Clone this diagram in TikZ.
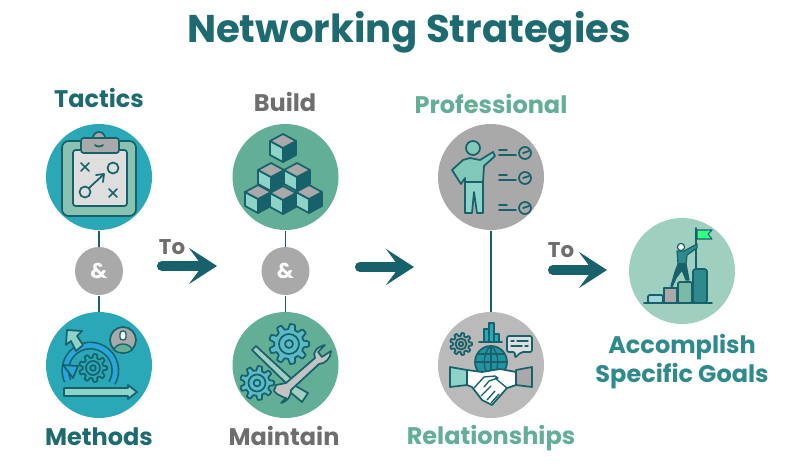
\documentclass[tikz,border=0pt]{standalone}
\usepackage{fontspec}
\setmainfont{Poppins}
\usetikzlibrary{arrows.meta}

\definecolor{tealdk}{HTML}{17626A}
\definecolor{tealtxt}{HTML}{1D6B70}
\definecolor{tealmid}{HTML}{2F8A8E}
\definecolor{tealfill}{HTML}{2AA8B8}
\definecolor{greenfill}{HTML}{62AE97}
\definecolor{greenpale}{HTML}{9FCFBF}
\definecolor{greyfill}{HTML}{A9A9A9}
\definecolor{greytxt}{HTML}{6E6E6E}
\definecolor{mintlt}{HTML}{8ED3C8}
\definecolor{cyanlt}{HTML}{5CBAC6}
\definecolor{paper}{HTML}{DEDEDE}

\tikzset{every picture/.style={line width=0.75pt}}
\tikzset{
  disc/.style={circle,minimum size=79.5pt,inner sep=0pt},
  andnode/.style={circle,fill=greyfill,minimum size=36pt,inner sep=0pt,text=white,font=\bfseries\fontsize{16}{16}\selectfont},
  link/.style={draw=tealdk,line width=1.2pt},
  bigarrow/.style={draw=tealdk,line width=7.6pt,line cap=round,-{Stealth[length=21pt,width=27pt,inset=10pt]}},
  head/.style={font=\bfseries\fontsize{18}{18}\selectfont,inner sep=0pt,anchor=base},
  tolabel/.style={font=\bfseries\fontsize{16}{16}\selectfont,inner sep=0pt,anchor=base,text=greytxt},
  icon/.style={draw=tealdk,line width=1.3pt,line join=round,line cap=round},
}

% one cube of the stack
\newcommand{\stackcube}[2]{
  \begin{scope}[shift={(#1,#2)}]
    \filldraw[icon,fill=mintlt] (-13,-7) -- (0,0) -- (0,14) -- (-13,7) -- cycle;
    \filldraw[icon,fill=tealdk] (13,-7) -- (0,0) -- (0,14) -- (13,7) -- cycle;
    \filldraw[icon,fill=greyfill] (0,-14) -- (13,-7) -- (0,0) -- (-13,-7) -- cycle;
  \end{scope}
}
% gear with a ring inside
\newcommand{\gearicon}[4]{
  \begin{scope}[shift={(#1,#2)}]
    \filldraw[icon,fill=#4,smooth] plot[domain=0:360,samples=121] ({#3*(0.87+0.13*max(-1,min(1,2.5*cos(9*\x))))*cos(\x)},{#3*(0.87+0.13*max(-1,min(1,2.5*cos(9*\x))))*sin(\x)}) -- cycle;
    \draw[icon] (0,0) circle [radius=#3*0.5];
    \draw[icon] (0,0) circle [radius=#3*0.2];
  \end{scope}
}
% dash dash tick row
\newcommand{\checkrow}[1]{
  \draw[icon] (499,#1-3) -- (507,#1-3);
  \draw[icon] (499,#1+2) -- (516,#1+2);
  \draw[icon] (525,#1) circle [radius=6];
  \draw[icon] (523,#1) -- (529,#1-2);
}

\begin{document}
\begin{tikzpicture}[x=0.75pt,y=0.75pt,yscale=-1,xscale=1]
    \useasboundingbox (0,0) rectangle (798,467);
    \fill[white] (0,0) rectangle (798,467);
    % Title
    \node[inner sep=0pt,anchor=base,text=tealtxt,font=\bfseries\fontsize{29}{29}\selectfont] (title) at (409,43) {Networking Strategies};
    % Circles
    \node[disc,fill=tealfill] (tactics) at (99,177) {};
    \node[andnode] (andA) at (99,271) {\&};
    \node[disc,fill=tealfill] (methods) at (99,365) {};
    \node[disc,fill=greenfill] (build) at (285.5,177) {};
    \node[andnode] (andB) at (285.5,271) {\&};
    \node[disc,fill=greenfill] (maintain) at (285.5,365) {};
    \node[disc,fill=greyfill] (professional) at (491,177) {};
    \node[disc,fill=greyfill!80!white] (relations) at (491,365) {};
    \node[disc,fill=greenpale] (goals) at (682,271) {};
    % Labels
    \node[head,text=tealtxt] (tacticsL) at (99,107) {Tactics};
    \node[head,text=tealtxt] (methodsL) at (99,445) {Methods};
    \node[head,text=greytxt] (buildL) at (285,111) {Build};
    \node[head,text=greytxt] (maintainL) at (284,445) {Maintain};
    \node[head,text=greenfill] (professionalL) at (491,113) {Professional};
    \node[head,text=greenfill] (relationsL) at (491,444) {Relationships};
    \node[head,text=tealmid] (goalsA) at (682,353) {Accomplish};
    \node[head,text=tealmid] (goalsB) at (682,382) {Specific Goals};
    \node[tolabel] (toA) at (172,254) {To};
    \node[tolabel] (toB) at (561,257) {To};
    % Connection
    \draw[link] (tactics) -- (andA);
    \draw[link] (andA) -- (methods);
    \draw[link] (build) -- (andB);
    \draw[link] (andB) -- (maintain);
    \draw[link] (professional) -- (relations);
    % Big arrows
    \coordinate (arrowAs) at (162,266);
    \coordinate (arrowAe) at (217,266);
    \coordinate (arrowBs) at (360,267);
    \coordinate (arrowBe) at (414,267);
    \coordinate (arrowCs) at (553,270);
    \coordinate (arrowCe) at (607,270);
    \draw[bigarrow] (arrowAs) -- (arrowAe);
    \draw[bigarrow] (arrowBs) -- (arrowBe);
    \draw[bigarrow] (arrowCs) -- (arrowCe);
    % Clipboard
    \filldraw[icon,fill=greenfill!75!white,rounded corners=5pt] (62,141) rectangle (136,216);
    \filldraw[icon,fill=paper,rounded corners=2pt] (73,150) rectangle (127,206);
    \filldraw[icon,fill=greyfill] (93,138) arc [start angle=180,end angle=360,radius=6];
    \filldraw[icon,fill=greyfill,rounded corners=2pt] (81,138) rectangle (119,153);
    \draw[icon] (95,145) .. controls (97,147) and (101,147) .. (103,145);
    \draw[icon] (81,163) -- (89,171) (89,163) -- (81,171);
    \draw[icon] (109,189) -- (117,197) (117,189) -- (109,197);
    \draw[icon] (113,168) circle [radius=5.5];
    \draw[icon] (85,192) circle [radius=5.5];
    \draw[icon] (89,188) -- (103,175);
    \draw[icon] (96,175) -- (104,174) -- (103,182);
    % Cycle and gear
    \draw[tealdk,line width=6pt] (112,383) arc [start angle=30,end angle=-205,radius=25];
    \draw[cyan!60!tealfill,line width=3.6pt] (112,383) arc [start angle=30,end angle=-205,radius=25];
    \filldraw[icon,fill=cyan!60!tealfill] (63,365) -- (78,366) -- (73,378) -- cycle;
    \gearicon{93}{368}{14}{tealfill}
    \filldraw[icon,fill=mintlt] (83,345) -- (76,351) -- (71,341) -- (66,345) -- (67,330) -- (82,331) -- (77,336) -- cycle;
    \filldraw[icon,fill=greyfill] (123,340) circle [radius=13];
    \filldraw[draw=tealdk,fill=white,rounded corners=2pt,line width=1pt] (120,331) rectangle (126,340);
    \filldraw[draw=tealdk,fill=greenfill,line width=1pt] (114,350) .. controls (116,342) and (130,342) .. (132,350) .. controls (128,354) and (118,354) .. cycle;
    \filldraw[icon,fill=mintlt] (64,388) -- (128,388) -- (128,385) -- (137,392) -- (128,399) -- (128,396) -- (64,396) -- cycle;
    % Cubes
    \stackcube{283}{148}
    \stackcube{271}{177}
    \stackcube{297}{177}
    \stackcube{258}{199}
    \stackcube{283}{200}
    \stackcube{309}{199}
    % Tools
    \gearicon{289}{344}{20}{cyanlt}
    \gearicon{257}{383}{17}{cyanlt}
    \filldraw[icon,fill=greenfill!60!white] (252,350) -- (256,346) -- (294,381) -- (289,386) -- cycle;
    \filldraw[icon,fill=greenfill!60!white] (294,385) -- (308,393) -- (302,402) -- (290,392) -- cycle;
    \filldraw[icon,fill=greyfill!70!white] (285,398) -- (277,394) -- (274,391) -- (276,385) -- (286,383) -- (315,358) .. controls (312,352) and (317,347) .. (325,345) -- (318,352) -- (322,357) -- (331,351) .. controls (331,358) and (325,364) .. (319,364) -- (291,390) .. controls (291,396) and (288,401) .. (281,403) -- (286,398) -- cycle;
    % Presenter
    \filldraw[icon,fill=mintlt!70!greenfill] (463,160) -- (470,158) -- (480,160) -- (493,152) -- (495,156) -- (484,166) -- (483,182) -- (465,182) -- (465,178) -- (461,184) -- (452,170) -- cycle;
    \filldraw[icon,fill=mintlt!70!greenfill] (473,148) circle [radius=7];
    \filldraw[icon,fill=mintlt] (465,182) -- (483,182) -- (483,213) -- (477,213) -- (474,192) -- (472,213) -- (465,213) -- cycle;
    \checkrow{153}
    \checkrow{178}
    \checkrow{208}
    % Handshake group
    \gearicon{461}{344}{11}{greyfill}
    \filldraw[icon,fill=tealfill] (484,342) rectangle (489,329);
    \filldraw[icon,fill=tealfill] (489,342) rectangle (494,323);
    \filldraw[icon,fill=tealfill] (494,342) rectangle (499,334);
    \draw[icon] (479,342) -- (502,342);
    \filldraw[icon,fill=paper,rounded corners=1.5pt] (507,336) -- (532,336) -- (532,352) -- (521,352) -- (515,358) -- (515,352) -- (507,352) -- cycle;
    \draw[icon,line width=1pt] (511,341) -- (514,341) (517,341) -- (528,341) (511,346) -- (522,346) (525,346) -- (528,346);
    \filldraw[icon,fill=tealfill!70!tealdk] (491,362) circle [radius=16];
    \draw[icon,line width=1pt] (491,346) -- (491,378) (475,362) -- (507,362) (478,354) -- (504,354);
    \draw[icon,line width=1pt] (491,346) .. controls (482,352) and (482,372) .. (491,378) .. controls (500,372) and (500,352) .. (491,346);
    \filldraw[icon,fill=white] (467,370) -- (482,372) -- (500,369) -- (516,372) -- (516,385) -- (507,388) -- (492,405) -- (482,400) -- (472,387) -- (467,385) -- cycle;
    \draw[icon,line width=1pt] (474,388) -- (484,377) -- (495,376) -- (498,378) -- (489,381) -- (484,387) (507,388) -- (495,378);
    \draw[icon,line width=1pt] (487,400) -- (495,391) (491,403) -- (499,394) (481,396) -- (491,386);
    \filldraw[icon,fill=mintlt] (450,367) -- (467,370) -- (467,385) -- (450,387) -- cycle;
    \filldraw[icon,fill=greyfill] (516,370) -- (532,367) -- (532,387) -- (516,385) -- cycle;
    % Climber on steps
    \filldraw[icon,fill=cyanlt!60!white,rounded corners=1pt] (648,303) rectangle (663,295);
    \filldraw[icon,fill=greyfill] (664,303) rectangle (677,288);
    \filldraw[icon,fill=greenfill!85!white,rounded corners=1pt] (678,303) rectangle (692,282);
    \filldraw[icon,fill=tealmid,rounded corners=2pt] (693,303) rectangle (707,269);
    \draw[icon] (644,303) -- (712,303);
    \draw[icon] (696,269) -- (696,228);
    \filldraw[icon,fill=green!60!cyan!80!white,line width=0.8pt] (697,230) -- (712,230) -- (708,234) -- (712,239) -- (697,239) -- cycle;
    \filldraw[icon,fill=tealmid,line width=0.9pt] (677,251) -- (684,251) -- (697,244) -- (697,248) -- (687,255) -- (686,264) -- (678,264) -- cycle;
    \filldraw[icon,fill=white,line width=0.9pt] (681,247) circle [radius=3.6];
    \filldraw[icon,fill=tealdk,line width=0.9pt] (678,264) -- (686,264) -- (689,280) -- (686,280) -- (682,270) -- (676,278) -- (672,287) -- (671,286) -- (675,272) -- cycle;
\end{tikzpicture}
\end{document}
